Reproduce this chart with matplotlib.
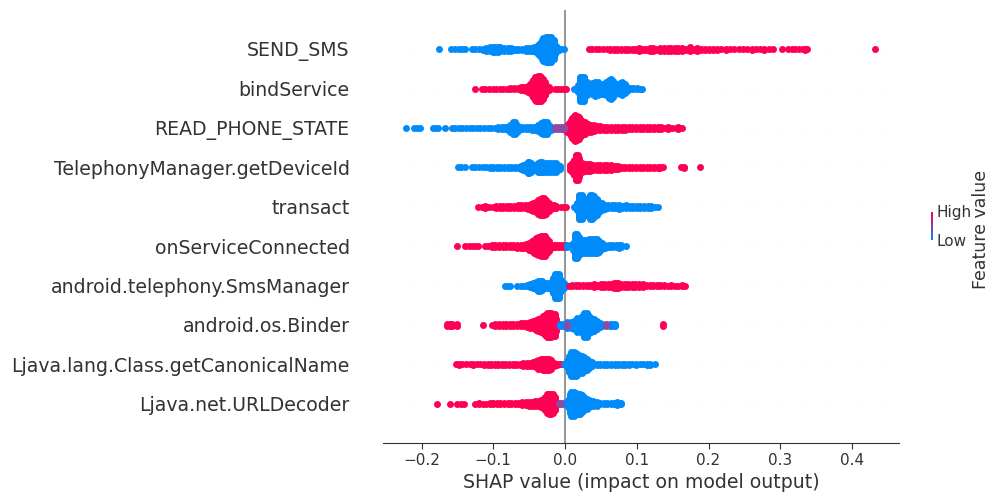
"""SHAP summary plot: top ten features of the malware model."""

import matplotlib
matplotlib.use("Agg")
import matplotlib.pyplot as plt
import numpy as np
from matplotlib.colors import LinearSegmentedColormap

RED = "#ff0052"
BLUE = "#008bfb"
MIX = "#8f4aa5"
TEXT = "#333333"

features = [
    "SEND_SMS", "bindService", "READ_PHONE_STATE", "TelephonyManager.getDeviceId",
    "transact", "onServiceConnected", "android.telephony.SmsManager",
    "android.os.Binder", "Ljava.lang.Class.getCanonicalName", "Ljava.net.URLDecoder",
]
x_ticks = [-0.2, -0.1, 0.0, 0.1, 0.2, 0.3, 0.4]

# each pair: SHAP value, number of samples stacked at that value
send_sms_low = [(-0.176, 1), (-0.159, 1), (-0.153, 1), (-0.148, 1), (-0.143, 1), (-0.139, 1),
                (-0.130, 1), (-0.125, 1), (-0.120, 1), (-0.115, 2), (-0.110, 3), (-0.105, 4), (-0.101, 5),
                (-0.098, 5), (-0.094, 5), (-0.090, 4), (-0.085, 3), (-0.080, 3), (-0.075, 3), (-0.070, 2),
                (-0.065, 2), (-0.060, 2), (-0.055, 3), (-0.050, 3), (-0.046, 3), (-0.043, 4), (-0.040, 5),
                (-0.037, 7), (-0.035, 10), (-0.032, 14), (-0.030, 17), (-0.027, 19), (-0.025, 19),
                (-0.022, 19), (-0.019, 19), (-0.016, 14), (-0.014, 7), (-0.011, 4), (-0.009, 2),
                (-0.005, 1), (-0.001, 1)]
send_sms_high = [(0.033, 1), (0.038, 1), (0.043, 1), (0.048, 1), (0.053, 1), (0.058, 1), (0.063, 2), (0.068, 2),
                 (0.073, 2), (0.078, 2), (0.083, 2), (0.088, 2), (0.093, 2), (0.098, 2), (0.103, 3), (0.108, 2),
                 (0.113, 2), (0.118, 3), (0.123, 3), (0.128, 2), (0.133, 3), (0.138, 3), (0.143, 3), (0.148, 3),
                 (0.153, 3), (0.158, 3), (0.163, 3), (0.168, 2), (0.174, 4), (0.179, 2), (0.184, 3), (0.189, 2),
                 (0.195, 2), (0.200, 2), (0.206, 2), (0.212, 2), (0.218, 1), (0.224, 2), (0.230, 1), (0.236, 1),
                 (0.242, 1), (0.248, 1), (0.254, 1), (0.260, 2), (0.266, 1), (0.272, 1), (0.278, 2), (0.284, 1),
                 (0.290, 1), (0.303, 1), (0.311, 1), (0.316, 1), (0.321, 1), (0.326, 1), (0.331, 1), (0.335, 2),
                 (0.337, 1), (0.432, 1)]

bind_service_high = [(-0.125, 1), (-0.116, 1), (-0.111, 1), (-0.106, 1), (-0.101, 1), (-0.096, 1), (-0.091, 1),
                     (-0.086, 1), (-0.081, 1), (-0.076, 2), (-0.071, 2), (-0.066, 2), (-0.062, 3), (-0.058, 3),
                     (-0.055, 4), (-0.052, 5), (-0.049, 7), (-0.046, 10), (-0.044, 13), (-0.042, 17), (-0.040, 18),
                     (-0.037, 19), (-0.035, 19), (-0.033, 18), (-0.030, 15), (-0.028, 10), (-0.026, 6),
                     (-0.023, 3), (-0.021, 1), (-0.014, 1), (-0.010, 1), (-0.006, 1), (-0.001, 1), (0.002, 1)]
bind_service_low = [(0.012, 1), (0.015, 2), (0.018, 6), (0.021, 18), (0.024, 18), (0.027, 18), (0.030, 10),
                    (0.034, 7), (0.038, 9), (0.042, 11), (0.046, 10), (0.049, 8), (0.053, 8), (0.057, 10),
                    (0.061, 14), (0.064, 15), (0.067, 12), (0.070, 8), (0.073, 7), (0.076, 9), (0.079, 10),
                    (0.083, 7), (0.086, 4), (0.090, 2), (0.095, 2), (0.100, 2), (0.104, 1), (0.107, 1)]

read_phone_low = [(-0.221, 1), (-0.211, 1), (-0.206, 1), (-0.202, 1), (-0.184, 1), (-0.180, 1), (-0.177, 1),
                  (-0.167, 1), (-0.158, 1), (-0.153, 1), (-0.148, 1), (-0.143, 1), (-0.138, 1), (-0.133, 1),
                  (-0.128, 1), (-0.123, 1), (-0.118, 1), (-0.113, 1), (-0.108, 1), (-0.103, 1), (-0.098, 1),
                  (-0.093, 2), (-0.088, 2), (-0.083, 2), (-0.079, 3), (-0.076, 6), (-0.073, 9), (-0.070, 9),
                  (-0.067, 6), (-0.064, 3), (-0.060, 2), (-0.055, 2), (-0.050, 2), (-0.046, 3), (-0.042, 3),
                  (-0.038, 5), (-0.034, 8), (-0.031, 10), (-0.028, 10), (-0.025, 9), (-0.022, 5), (-0.019, 3),
                  (-0.016, 1)]
read_phone_mix = [(-0.014, 2), (-0.010, 2), (-0.006, 2), (-0.002, 2)]
read_phone_high = [(0.000, 3), (0.003, 6), (0.005, 8), (0.008, 12), (0.010, 15), (0.012, 18), (0.014, 19),
                   (0.017, 18), (0.019, 16), (0.021, 14), (0.024, 11), (0.028, 9), (0.032, 7), (0.036, 6),
                   (0.040, 5), (0.044, 4), (0.049, 4), (0.054, 3), (0.059, 3), (0.064, 3), (0.069, 3),
                   (0.074, 3), (0.079, 3), (0.084, 3), (0.089, 2), (0.094, 2), (0.099, 2), (0.104, 2),
                   (0.109, 2), (0.114, 2), (0.119, 2), (0.124, 2), (0.129, 2), (0.134, 2), (0.139, 1),
                   (0.144, 2), (0.149, 1), (0.154, 1), (0.158, 2), (0.163, 1)]

device_id_low = [(-0.149, 1), (-0.145, 1), (-0.140, 1), (-0.130, 1), (-0.125, 1), (-0.120, 1), (-0.115, 1),
                 (-0.110, 1), (-0.105, 2), (-0.100, 2), (-0.095, 2), (-0.090, 2), (-0.085, 2), (-0.080, 2),
                 (-0.075, 2), (-0.070, 2), (-0.066, 2), (-0.062, 3), (-0.058, 4), (-0.055, 6), (-0.052, 9),
                 (-0.050, 9), (-0.047, 7), (-0.044, 5), (-0.041, 5), (-0.038, 7), (-0.035, 8), (-0.032, 8),
                 (-0.029, 7), (-0.025, 7), (-0.021, 7), (-0.017, 7), (-0.013, 7), (-0.010, 5), (-0.007, 3)]
device_id_high = [(0.007, 4), (0.010, 7), (0.013, 12), (0.015, 19), (0.018, 19), (0.020, 14), (0.023, 7),
                  (0.027, 6), (0.031, 6), (0.035, 6), (0.039, 5), (0.044, 4), (0.049, 4), (0.054, 4),
                  (0.059, 4), (0.064, 4), (0.069, 3), (0.074, 3), (0.079, 2), (0.084, 2), (0.089, 2),
                  (0.094, 2), (0.099, 2), (0.104, 2), (0.109, 2), (0.114, 2), (0.119, 2), (0.124, 2),
                  (0.129, 2), (0.133, 2), (0.137, 1), (0.161, 1), (0.166, 2), (0.188, 1)]

transact_high = [(-0.121, 1), (-0.116, 1), (-0.111, 2), (-0.106, 1), (-0.101, 1), (-0.096, 2), (-0.091, 2),
                 (-0.086, 2), (-0.081, 2), (-0.076, 2), (-0.071, 2), (-0.066, 3), (-0.061, 3), (-0.056, 3),
                 (-0.052, 4), (-0.048, 5), (-0.044, 7), (-0.041, 8), (-0.038, 11), (-0.035, 12), (-0.032, 13),
                 (-0.029, 13), (-0.026, 11), (-0.023, 7), (-0.020, 4), (-0.016, 3), (-0.013, 2), (-0.005, 1),
                 (-0.002, 1), (0.002, 1)]
transact_low = [(0.012, 1), (0.015, 2), (0.017, 6), (0.020, 18), (0.023, 18), (0.026, 14), (0.029, 10),
                (0.032, 11), (0.035, 18), (0.038, 18), (0.041, 16), (0.044, 12), (0.048, 8), (0.051, 6),
                (0.056, 4), (0.060, 3), (0.065, 3), (0.070, 3), (0.075, 4), (0.080, 2), (0.085, 3),
                (0.090, 2), (0.095, 2), (0.100, 2), (0.105, 2), (0.110, 2), (0.115, 2), (0.120, 2),
                (0.125, 1), (0.130, 1)]

service_conn_high = [(-0.150, 1), (-0.139, 1), (-0.134, 1), (-0.129, 1), (-0.125, 1), (-0.121, 1), (-0.112, 1),
                     (-0.107, 1), (-0.102, 2), (-0.097, 2), (-0.092, 2), (-0.087, 2), (-0.082, 2), (-0.077, 2),
                     (-0.072, 2), (-0.067, 3), (-0.062, 3), (-0.058, 3), (-0.054, 4), (-0.050, 6), (-0.046, 8),
                     (-0.043, 10), (-0.040, 12), (-0.037, 14), (-0.034, 15), (-0.031, 15), (-0.028, 15),
                     (-0.025, 11), (-0.023, 8), (-0.020, 3), (-0.016, 2), (-0.012, 2), (-0.008, 2), (-0.004, 2),
                     (0.000, 2)]
service_conn_low = [(0.003, 2), (0.008, 2), (0.011, 6), (0.014, 18), (0.017, 18), (0.020, 14), (0.023, 10),
                    (0.026, 10), (0.030, 10), (0.034, 11), (0.038, 11), (0.042, 11), (0.045, 11), (0.048, 9),
                    (0.052, 5), (0.056, 3), (0.061, 2), (0.066, 2), (0.071, 2), (0.075, 3), (0.078, 2),
                    (0.085, 1)]

sms_manager_low = [(-0.084, 1), (-0.079, 1), (-0.077, 1), (-0.067, 1), (-0.062, 1), (-0.057, 1), (-0.053, 2),
                   (-0.049, 3), (-0.045, 4), (-0.041, 6), (-0.038, 8), (-0.035, 8), (-0.032, 7), (-0.028, 5),
                   (-0.024, 5), (-0.020, 6), (-0.017, 12), (-0.014, 18), (-0.011, 18), (-0.008, 18),
                   (-0.005, 9), (-0.002, 5), (0.001, 2)]
sms_manager_high = [(0.005, 1), (0.010, 2), (0.015, 2), (0.020, 2), (0.025, 2), (0.030, 2), (0.035, 2),
                    (0.040, 3), (0.045, 2), (0.050, 3), (0.055, 3), (0.060, 3), (0.064, 3), (0.068, 4),
                    (0.071, 5), (0.074, 5), (0.078, 3), (0.083, 3), (0.088, 3), (0.093, 3), (0.098, 3),
                    (0.103, 3), (0.108, 3), (0.113, 2), (0.118, 2), (0.123, 2), (0.128, 2), (0.133, 2),
                    (0.138, 2), (0.143, 1), (0.148, 2), (0.153, 1), (0.158, 1), (0.163, 2), (0.167, 1)]

binder_high = [(-0.165, 2), (-0.161, 2), (-0.157, 2), (-0.154, 1), (-0.151, 2), (-0.114, 1), (-0.102, 1),
               (-0.097, 2), (-0.092, 2), (-0.087, 2), (-0.082, 2), (-0.077, 2), (-0.072, 2), (-0.067, 2),
               (-0.062, 3), (-0.057, 3), (-0.053, 4), (-0.049, 5), (-0.045, 6), (-0.041, 8), (-0.037, 9),
               (-0.034, 11), (-0.031, 13), (-0.028, 15), (-0.025, 18), (-0.023, 18), (-0.020, 18),
               (-0.017, 17), (-0.014, 16), (-0.012, 10), (-0.011, 3), (0.136, 2)]
binder_low = [(-0.007, 2), (-0.003, 2), (0.000, 2), (0.003, 5), (0.008, 5), (0.012, 7), (0.016, 11),
              (0.021, 10), (0.024, 13), (0.027, 18), (0.030, 18), (0.033, 13), (0.036, 11), (0.040, 9),
              (0.044, 7), (0.049, 4), (0.052, 2), (0.062, 2), (0.066, 2), (0.070, 2)]
binder_mix = [(0.003, 2), (0.057, 2)]

canonical_high = [(-0.152, 1), (-0.148, 2), (-0.143, 1), (-0.138, 1), (-0.133, 1), (-0.128, 2), (-0.123, 1),
                  (-0.118, 1), (-0.113, 2), (-0.108, 2), (-0.103, 2), (-0.098, 2), (-0.093, 2), (-0.088, 2),
                  (-0.083, 2), (-0.078, 2), (-0.073, 2), (-0.068, 2), (-0.063, 2), (-0.058, 3), (-0.053, 3),
                  (-0.049, 3), (-0.045, 4), (-0.041, 5), (-0.037, 7), (-0.034, 8), (-0.031, 9), (-0.028, 9),
                  (-0.025, 9), (-0.022, 9), (-0.019, 7), (-0.015, 3), (-0.011, 2), (-0.007, 1), (-0.004, 1)]
canonical_low = [(-0.002, 1), (0.001, 2), (0.003, 5), (0.006, 12), (0.009, 18), (0.012, 18), (0.015, 17),
                 (0.017, 16), (0.020, 14), (0.023, 13), (0.026, 11), (0.030, 9), (0.034, 6), (0.038, 4),
                 (0.044, 2), (0.049, 2), (0.054, 2), (0.059, 2), (0.064, 2), (0.069, 2), (0.074, 2),
                 (0.079, 2), (0.084, 2), (0.089, 2), (0.094, 1), (0.099, 2), (0.104, 1), (0.109, 1),
                 (0.114, 2), (0.118, 2), (0.126, 1)]

url_decoder_high = [(-0.179, 1), (-0.161, 1), (-0.150, 1), (-0.145, 1), (-0.141, 1), (-0.125, 1), (-0.120, 2),
                    (-0.115, 1), (-0.110, 1), (-0.105, 2), (-0.100, 2), (-0.095, 2), (-0.090, 2), (-0.085, 2),
                    (-0.080, 2), (-0.075, 2), (-0.070, 2), (-0.065, 2), (-0.060, 3), (-0.055, 3), (-0.050, 4),
                    (-0.046, 4), (-0.042, 5), (-0.038, 5), (-0.034, 6), (-0.031, 7), (-0.028, 10), (-0.025, 14),
                    (-0.023, 15), (-0.020, 15), (-0.017, 14), (-0.014, 10), (-0.012, 3)]
url_decoder_mix = [(-0.009, 2), (-0.005, 2)]
url_decoder_low = [(-0.001, 2), (0.002, 3), (0.005, 7), (0.007, 14), (0.009, 18), (0.012, 18), (0.015, 16),
                   (0.018, 15), (0.021, 15), (0.024, 13), (0.027, 10), (0.030, 8), (0.034, 6), (0.039, 5),
                   (0.044, 4), (0.049, 2), (0.054, 2), (0.059, 2), (0.064, 2), (0.068, 2), (0.072, 3),
                   (0.075, 2), (0.078, 2)]

rows = [
    [(send_sms_low, BLUE), (send_sms_high, RED)],
    [(bind_service_high, RED), (bind_service_low, BLUE)],
    [(read_phone_low, BLUE), (read_phone_high, RED), (read_phone_mix, MIX)],
    [(device_id_low, BLUE), (device_id_high, RED)],
    [(transact_high, RED), (transact_low, BLUE)],
    [(service_conn_high, RED), (service_conn_low, BLUE)],
    [(sms_manager_low, BLUE), (sms_manager_high, RED)],
    [(binder_high, RED), (binder_low, BLUE), (binder_mix, MIX)],
    [(canonical_high, RED), (canonical_low, BLUE)],
    [(url_decoder_high, RED), (url_decoder_low, BLUE), (url_decoder_mix, MIX)],
]

STACK_STEP = 0.036  # vertical spacing of stacked points, in row units


def swarm(samples, row):
    xs, ys = [], []
    for value, count in samples:
        offsets = (np.arange(count) - (count - 1) / 2) * STACK_STEP
        xs.extend([value] * count)
        ys.extend(row + offsets)
    return xs, ys


fig = plt.figure(figsize=(9.91, 4.93), dpi=100)
ax = fig.add_axes([383 / 991, 50 / 493, 516 / 991, 433 / 493])

n_rows = len(features)
for i, groups in enumerate(rows):
    row = n_rows - 1 - i
    ax.axhline(row, color="#f0f0f0", linewidth=0.5, dashes=(1, 4), zorder=-1)
    for samples, color in groups:
        xs, ys = swarm(samples, row)
        ax.scatter(xs, ys, s=25, color=color, linewidths=0, zorder=3)

ax.axvline(0, color="#999999", linewidth=1.5, zorder=2)

ax.set_xlim(-0.2537, 0.4655)
ax.set_ylim(-1, n_rows)
ax.set_xticks(x_ticks)
ax.set_yticks(range(n_rows))
ax.set_yticklabels(features[::-1], fontsize=13.6, color=TEXT)
ax.tick_params(axis="y", length=0, pad=24)
ax.tick_params(axis="x", labelsize=11, labelcolor=TEXT, color=TEXT, length=4)
ax.set_xlabel("SHAP value (impact on model output)", fontsize=13.6, color=TEXT, labelpad=3)
for side in ("top", "left", "right"):
    ax.spines[side].set_visible(False)
ax.spines["bottom"].set_color(TEXT)

# colour scale at the right
cmap = LinearSegmentedColormap.from_list("shap", [BLUE, RED])
cax = fig.add_axes([930.5 / 991, 253 / 493, 1.5 / 991, 28 / 493])
cax.imshow(np.linspace(1, 0, 64).reshape(-1, 1), cmap=cmap, aspect="auto")
cax.axis("off")
fig.text(936 / 991, 1 - 213 / 493, "High", fontsize=11, color=TEXT, va="center", ha="left")
fig.text(936 / 991, 1 - 241 / 493, "Low", fontsize=11, color=TEXT, va="center", ha="left")
fig.text(981 / 991, 1 - 229 / 493, "Feature value", fontsize=12.5, color=TEXT,
         rotation=90, va="center", ha="center")

fig.savefig("out.png", dpi=100)
